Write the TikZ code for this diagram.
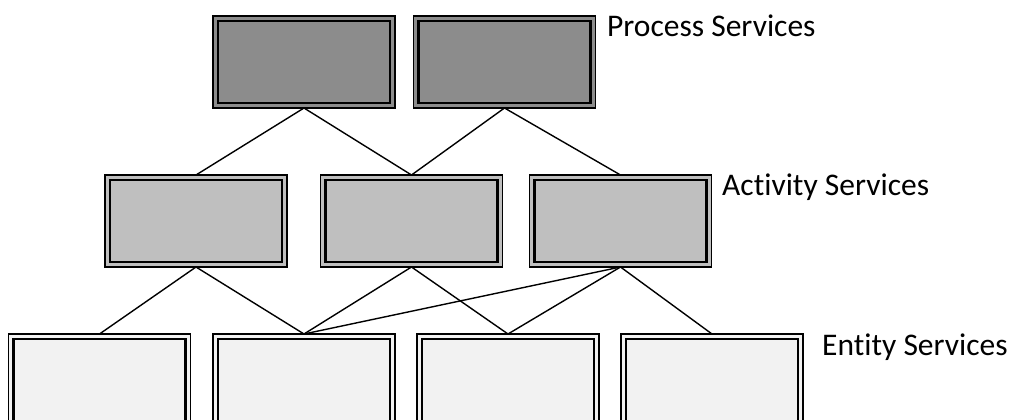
\documentclass[tikz,border=0pt]{standalone}
\usepackage{fontspec}
\setmainfont[Ligatures=NoCommon]{Carlito}
\begin{document}
\begin{tikzpicture}[x=1pt,y=-1pt,
  svc/.style={draw=black,line width=1.2pt,minimum width=182pt,minimum height=92pt,
    inner sep=0pt,outer sep=0pt,
    path picture={\draw[line width=2.2pt,black]
      ([shift={(5pt,5pt)}]path picture bounding box.south west) rectangle
      ([shift={(-5pt,-5pt)}]path picture bounding box.north east);}},
  proc/.style={svc,fill=black!45},
  act/.style={svc,fill=black!25},
  ent/.style={svc,fill=black!5},
  link/.style={line width=1.4pt,black},
  lbl/.style={anchor=base west,inner sep=0pt,font=\fontsize{31.5}{36}\selectfont}]
\useasboundingbox (0,0) rectangle (1013,420);
\clip (0,0) rectangle (1013,420);

% process layer
\node[proc] (p1) at (304,62) {};
\node[proc] (p2) at (504.5,62) {};
% activity layer
\node[act] (a1) at (196,221) {};
\node[act] (a2) at (411.5,221) {};
\node[act] (a3) at (620.5,221) {};
% entity layer
\node[ent] (e1) at (99.5,380) {};
\node[ent] (e2) at (304,380) {};
\node[ent] (e3) at (508,380) {};
\node[ent] (e4) at (712,380) {};

% dependencies
\draw[link] (p1.south) -- (a1.north);
\draw[link] (p1.south) -- (a2.north);
\draw[link] (p2.south) -- (a2.north);
\draw[link] (p2.south) -- (a3.north);
\draw[link] (a1.south) -- (e1.north);
\draw[link] (a1.south) -- (e2.north);
\draw[link] (a2.south) -- (e2.north);
\draw[link] (a2.south) -- (e3.north);
\draw[link] (a3.south) -- (e2.north);
\draw[link] (a3.south) -- (e3.north);
\draw[link] (a3.south) -- (e4.north);

% layer labels
\node[lbl] (lp) at (607,37) {Process Services};
\node[lbl] (la) at (722,195) {Activity Services};
\node[lbl] (le) at (822,355) {Entity Services};
\end{tikzpicture}
\end{document}
